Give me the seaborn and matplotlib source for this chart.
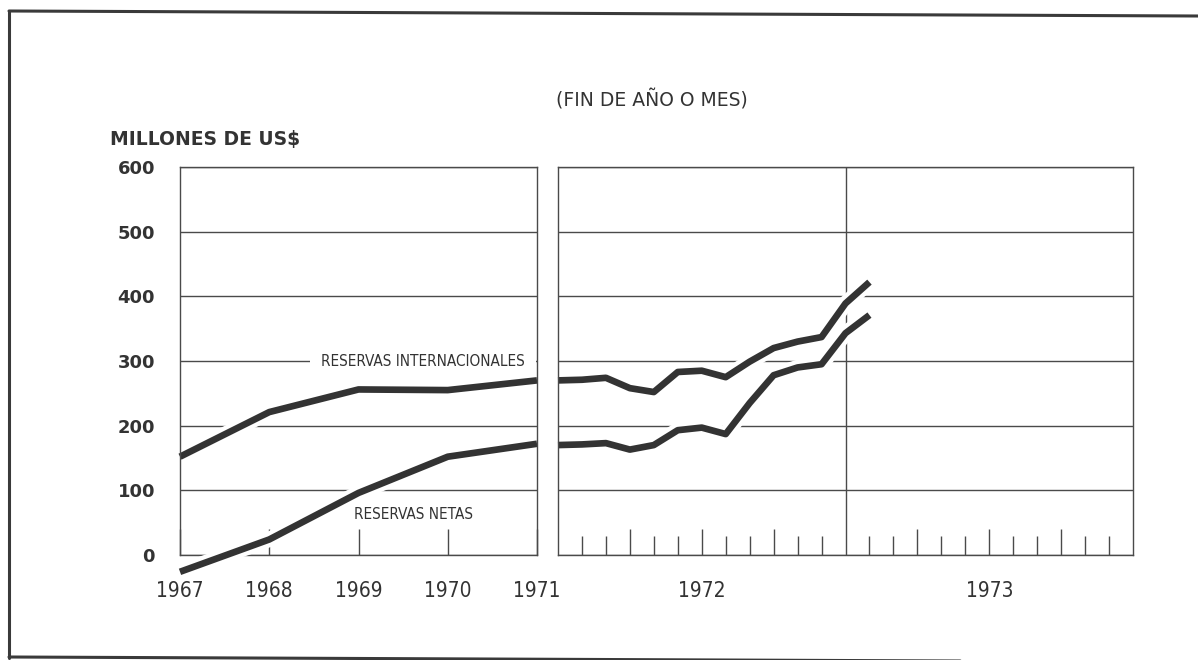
import pandas as pd
import matplotlib.pyplot as plt
import matplotlib.patheffects as pe
from matplotlib.lines import Line2D
import seaborn as sns

# Reservas (millones de US$), fin de año
years = [1967, 1968, 1969, 1970, 1971]
intl_year = [152, 221, 256, 255, 270]
neta_year = [-26, 24, 96, 152, 172]

# fin de mes: 0 = dic 1971, 1 = ene 1972, ... 13 = ene 1973
months = [0, 1, 2, 3, 4, 5, 6, 7, 8, 9, 10, 11, 12, 13]
intl_month = [270, 271, 274, 258, 252, 283, 285, 275, 299, 320, 330, 337, 389, 422]
neta_month = [170, 171, 173, 163, 170, 193, 197, 187, 235, 278, 290, 295, 343, 371]

year_labels = ['1967', '1968', '1969', '1970', '1971']
y_ticks = [0, 100, 200, 300, 400, 500, 600]

df_year = pd.DataFrame({'x': years * 2, 'v': intl_year + neta_year,
                        's': ['intl'] * 5 + ['neta'] * 5})
df_month = pd.DataFrame({'x': months * 2, 'v': intl_month + neta_month,
                         's': ['intl'] * 14 + ['neta'] * 14})

sns.set_style('white')
plt.rcParams['font.family'] = ['DejaVu Sans']
narrow = dict(family=['Liberation Sans Narrow', 'DejaVu Sans'],
              stretch='condensed')

INK = '#333333'
GRID = '#4a4a4a'
W, H = 1198, 660
fig = plt.figure(figsize=(W / 100, H / 100), dpi=100)


def box(x0, x1, ytop, ybot):
    return [x0 / W, 1 - ybot / H, (x1 - x0) / W, (ybot - ytop) / H]


ax1 = fig.add_axes(box(180, 537, 167, 555))
ax2 = fig.add_axes(box(558, 1133, 167, 555))

halo = [pe.Stroke(linewidth=11, foreground='white'), pe.Normal()]

for ax, df in [(ax1, df_year), (ax2, df_month)]:
    sns.lineplot(data=df, x='x', y='v', units='s', estimator=None, ax=ax,
                 color=INK, linewidth=4.8, legend=False, zorder=3,
                 clip_on=False)
    for ln in ax.get_lines():
        ln.set_path_effects(halo)
        ln.set_solid_capstyle('butt')
        ln.set_solid_joinstyle('round')
    ax.set_ylim(0, 600)
    ax.set_yticks(y_ticks)
    ax.grid(axis='y', color=GRID, linewidth=1.0)
    ax.grid(axis='x', visible=False)
    ax.set_axisbelow(True)
    for sp in ax.spines.values():
        sp.set_color(GRID)
        sp.set_linewidth(1.0)
    ax.spines['left'].set_zorder(4)
    ax.spines['right'].set_zorder(4)
    ax.set_xlabel('')
    ax.set_ylabel('')

# panel izquierdo: años
ax1.set_xlim(1967, 1971)
ax1.set_xticks(years)
ax1.set_xticklabels(year_labels, fontsize=15, color=INK, **narrow)
ax1.tick_params(axis='x', direction='in', length=19, width=1.0,
                color=GRID, pad=19, bottom=True)
ax1.set_yticklabels([str(t) for t in y_ticks], fontsize=13,
                    fontweight='bold', color=INK)
ax1.tick_params(axis='y', length=0, pad=18)

# panel derecho: meses 1972-1973
ax2.set_xlim(0, 24)
ax2.set_xticks([3, 6, 9, 15, 18, 21])
ax2.set_xticklabels(['', '1972', '', '', '1973', ''], fontsize=15,
                    color=INK, **narrow)
ax2.set_xticks([1, 2, 4, 5, 7, 8, 10, 11, 13, 14, 16, 17, 19, 20, 22, 23],
               minor=True)
ax2.tick_params(axis='x', which='major', direction='in', length=19,
                width=1.0, color=GRID, pad=19, bottom=True)
ax2.tick_params(axis='x', which='minor', direction='in', length=14,
                width=1.0, color=GRID, bottom=True)
ax2.tick_params(axis='y', left=False, labelleft=False)
ax2.axvline(12, color=GRID, linewidth=1.0, zorder=1)

# rótulos de las series
ax1.text(1969.72, 300, 'RESERVAS INTERNACIONALES', fontsize=11,
         color=INK, ha='center', va='center', zorder=2.9,
         bbox=dict(facecolor='white', edgecolor='none', pad=8), **narrow)
ax1.text(1969.62, 62, 'RESERVAS NETAS', fontsize=11, color=INK,
         ha='center', va='center', zorder=4, **narrow)

fig.text(652 / W, 1 - 100 / H, '(FIN DE AÑO O MES)', ha='center',
         va='center', fontsize=13.5, color=INK)
fig.text(110 / W, 1 - 140 / H, 'MILLONES DE US$', ha='left', va='center',
         fontsize=13.5, fontweight='bold', color=INK)

# marco exterior
for xs, ys in [([9, W], [11, 16]), ([9, 9], [11, 658]), ([9, W], [657, 662])]:
    fig.add_artist(Line2D([x / W for x in xs], [1 - y / H for y in ys],
                          color='#3a3a3a', linewidth=2.2))

plt.savefig('out.png', dpi=100)
